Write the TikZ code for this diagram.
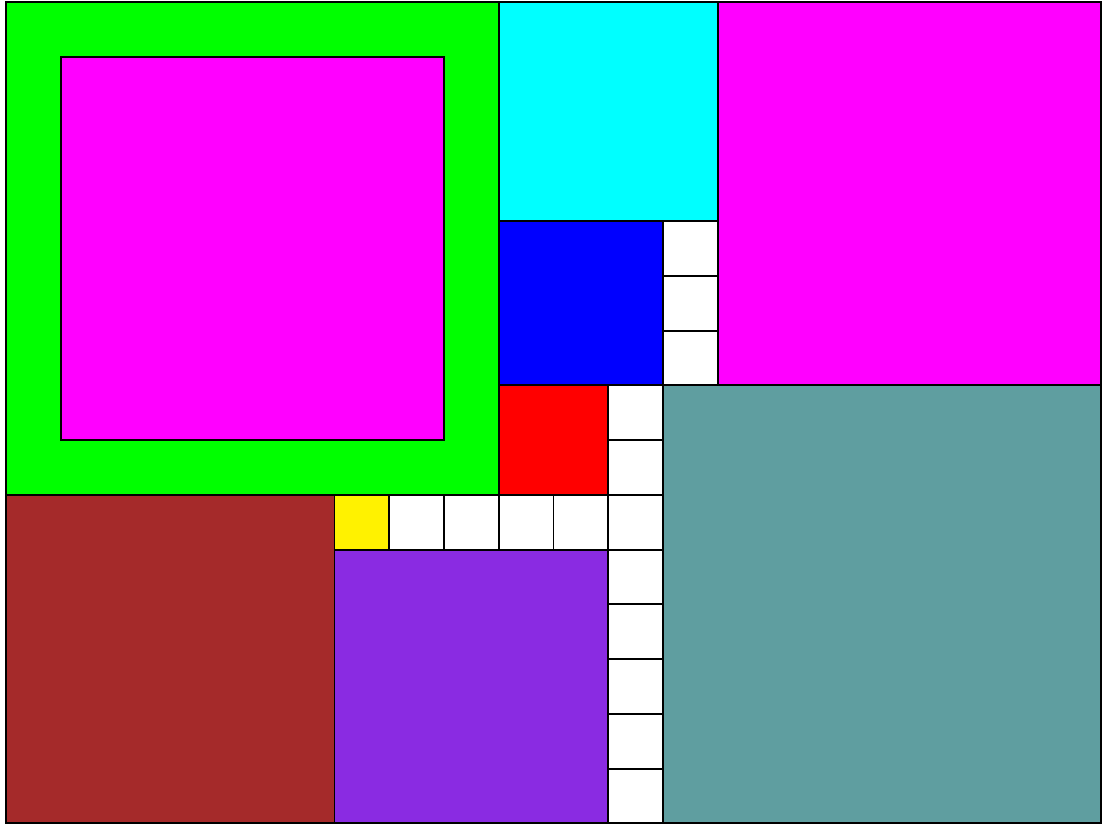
\documentclass[tikz,border=0pt]{standalone}
\usepackage{xcolor}
\usepackage{tikz}
\definecolor{tilebrown}{HTML}{A52A2A}
\definecolor{tileviolet}{HTML}{8A2BE2}
\definecolor{tileteal}{HTML}{5F9EA0}
\definecolor{tilegreen}{HTML}{00FF00}
\definecolor{tilemagenta}{HTML}{FF00FF}
\definecolor{tilecyan}{HTML}{00FFFF}
\tikzset{
    tile/.style={
        draw=black,
        line width=0.5pt
    }
}
\tikzset{
    cell/.style={
        draw=black,
        line width=0.5pt,
        fill=white
    }
}

\begin{document}
\begin{tikzpicture}[
    x=5mm,
    y=-5mm
]

\useasboundingbox (-0.11,-0.04) rectangle (20.02,15.07);

% ------------------------------------------------------------
% Large squares
% ------------------------------------------------------------

\filldraw[tile, fill=tilegreen]   (0,0)  rectangle (9,9);
\filldraw[tile, fill=tilemagenta] (1,1)  rectangle (8,8);
\filldraw[tile, fill=tilecyan]    (9,0)  rectangle (13,4);
\filldraw[tile, fill=tilemagenta] (13,0) rectangle (20,7);
\filldraw[tile, fill=blue]        (9,4)  rectangle (12,7);
\filldraw[tile, fill=red]         (9,7)  rectangle (11,9);
\filldraw[tile, fill=tileteal]    (12,7) rectangle (20,15);
\filldraw[tile, fill=tilebrown]   (0,9)  rectangle (6,15);
\filldraw[tile, fill=yellow]      (6,9)  rectangle (7,10);
\filldraw[tile, fill=tileviolet]  (6,10) rectangle (11,15);

% ------------------------------------------------------------
% Unit cells
% ------------------------------------------------------------

\foreach \r in {4,5,6}
    \filldraw[cell] (12,\r) rectangle ++(1,1);
\foreach \r in {7,...,14}
    \filldraw[cell] (11,\r) rectangle ++(1,1);
\foreach \c in {7,...,10}
    \filldraw[cell] (\c,9) rectangle ++(1,1);

\end{tikzpicture}
\end{document}
